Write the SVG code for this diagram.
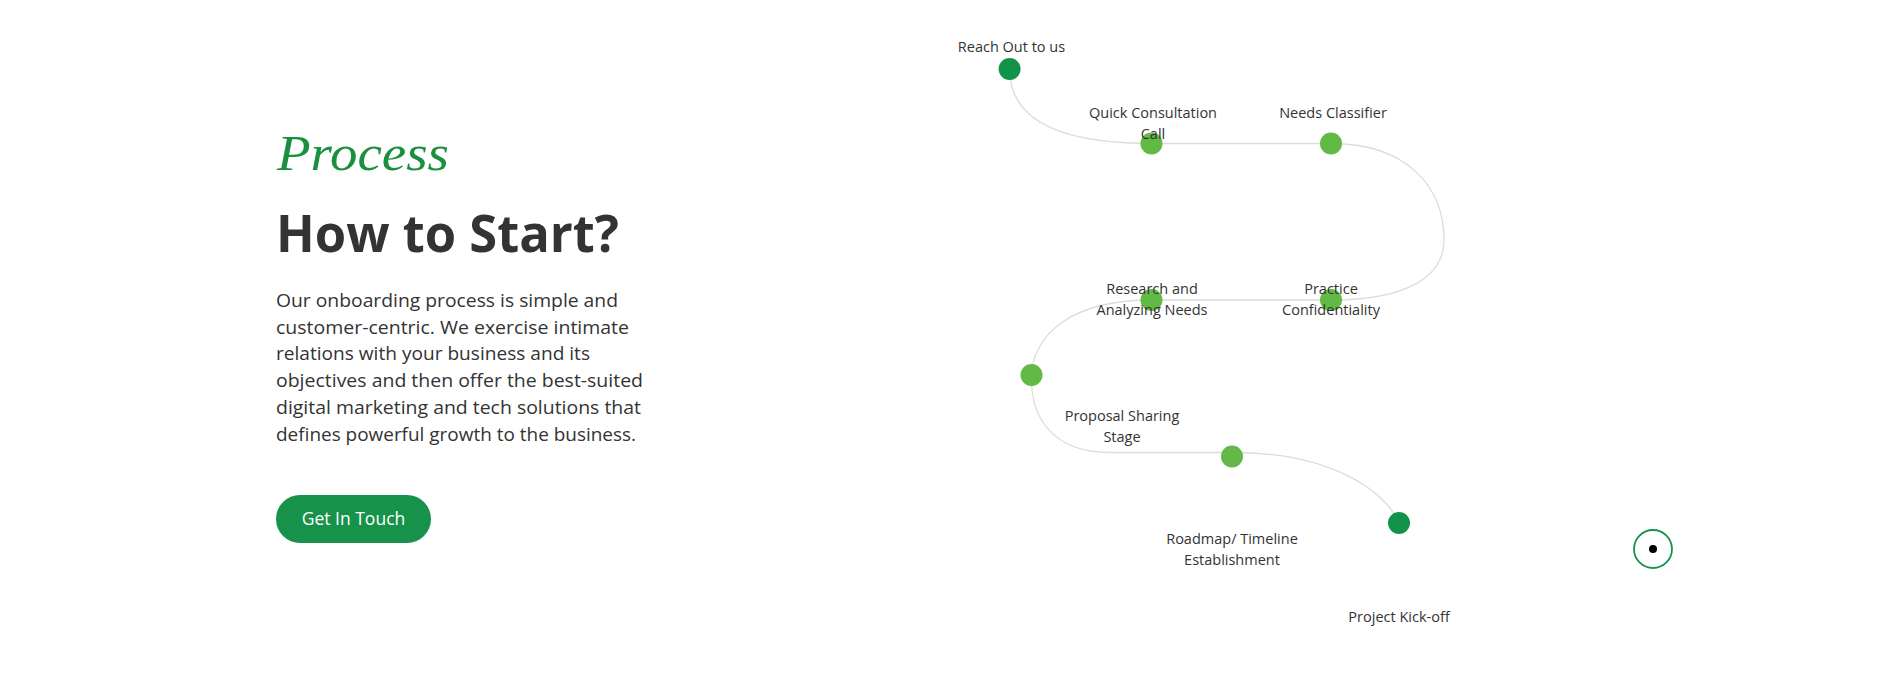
<svg xmlns="http://www.w3.org/2000/svg" width="1899" height="676" viewBox="0 0 1899 676">
<style>
.lbl{font-family:"Open Sans","Liberation Sans",sans-serif;font-size:14.5px;fill:#333;text-anchor:middle}
.dk{fill:#13924a}.lt{fill:#63b946}
.body{font-family:"Open Sans","Liberation Sans",sans-serif;font-size:18.5px;fill:#333}
</style>
<rect width="1899" height="676" fill="#fff"/>
<g id="intro">
<text x="277" y="170" font-family="'Liberation Serif',serif" font-style="italic" font-size="50" fill="#1a8f3f" textLength="172" lengthAdjust="spacingAndGlyphs">Process</text>
<text x="276" y="252" font-family="'Open Sans','Liberation Sans',sans-serif" font-weight="bold" font-size="52" fill="#333" textLength="343" lengthAdjust="spacingAndGlyphs">How to Start?</text>
<text class="body" x="276" y="307" textLength="342" lengthAdjust="spacingAndGlyphs">Our onboarding process is simple and</text>
<text class="body" x="276" y="334" textLength="353" lengthAdjust="spacingAndGlyphs">customer-centric. We exercise intimate</text>
<text class="body" x="276" y="360" textLength="314" lengthAdjust="spacingAndGlyphs">relations with your business and its</text>
<text class="body" x="276" y="387" textLength="367" lengthAdjust="spacingAndGlyphs">objectives and then offer the best-suited</text>
<text class="body" x="276" y="414" textLength="365" lengthAdjust="spacingAndGlyphs">digital marketing and tech solutions that</text>
<text class="body" x="276" y="441" textLength="360" lengthAdjust="spacingAndGlyphs">defines powerful growth to the business.</text>
</g>
<g id="button">
<rect x="276" y="495" width="155" height="48" rx="24" fill="#16924a"/>
<text x="353.5" y="525" font-family="'Open Sans','Liberation Sans',sans-serif" font-size="17.5" fill="#fff" text-anchor="middle">Get In Touch</text>
</g>
<g id="connectors" fill="none" stroke="#dcdcdc" stroke-width="1.3">
<path d="M1009.6,69 C1009.6,125 1070,143.5 1151.5,143.5 L1331,143.5 C1405,143.5 1444,185 1444,240 C1444,275 1410,300 1331,300 L1151.5,300 C1070,300 1034,335 1031.5,375 C1030,420 1055,452.5 1110,452.5 L1232,452.5 C1330,452.5 1385,490 1399,523"/>
</g>
<g id="n1"><circle class="dk" cx="1009.6" cy="69" r="11"/><text class="lbl" x="1011.5" y="52">Reach Out to us</text></g>
<g id="n2"><circle class="lt" cx="1151.5" cy="143.5" r="11"/><text class="lbl" x="1153" y="118">Quick Consultation</text><text class="lbl" x="1153" y="139">Call</text></g>
<g id="n3"><circle class="lt" cx="1331" cy="143.5" r="11"/><text class="lbl" x="1333" y="118">Needs Classifier</text></g>
<g id="n4"><circle class="lt" cx="1151.5" cy="300" r="11"/><text class="lbl" x="1152" y="294">Research and</text><text class="lbl" x="1152" y="315">Analyzing Needs</text></g>
<g id="n5"><circle class="lt" cx="1331" cy="300" r="11"/><text class="lbl" x="1331" y="294">Practice</text><text class="lbl" x="1331" y="315">Confidentiality</text></g>
<g id="n6"><circle class="lt" cx="1031.5" cy="375" r="11"/><text class="lbl" x="1122" y="421">Proposal Sharing</text><text class="lbl" x="1122" y="442">Stage</text></g>
<g id="n7"><circle class="lt" cx="1232" cy="456.5" r="11"/><text class="lbl" x="1232" y="544">Roadmap/ Timeline</text><text class="lbl" x="1232" y="565">Establishment</text></g>
<g id="n8"><circle class="dk" cx="1399" cy="523" r="11"/><text class="lbl" x="1399" y="622">Project Kick-off</text></g>
<g id="cursor"><circle cx="1653" cy="549" r="19" fill="none" stroke="#16924a" stroke-width="1.8"/><circle cx="1653" cy="549" r="4" fill="#000"/></g>
</svg>
